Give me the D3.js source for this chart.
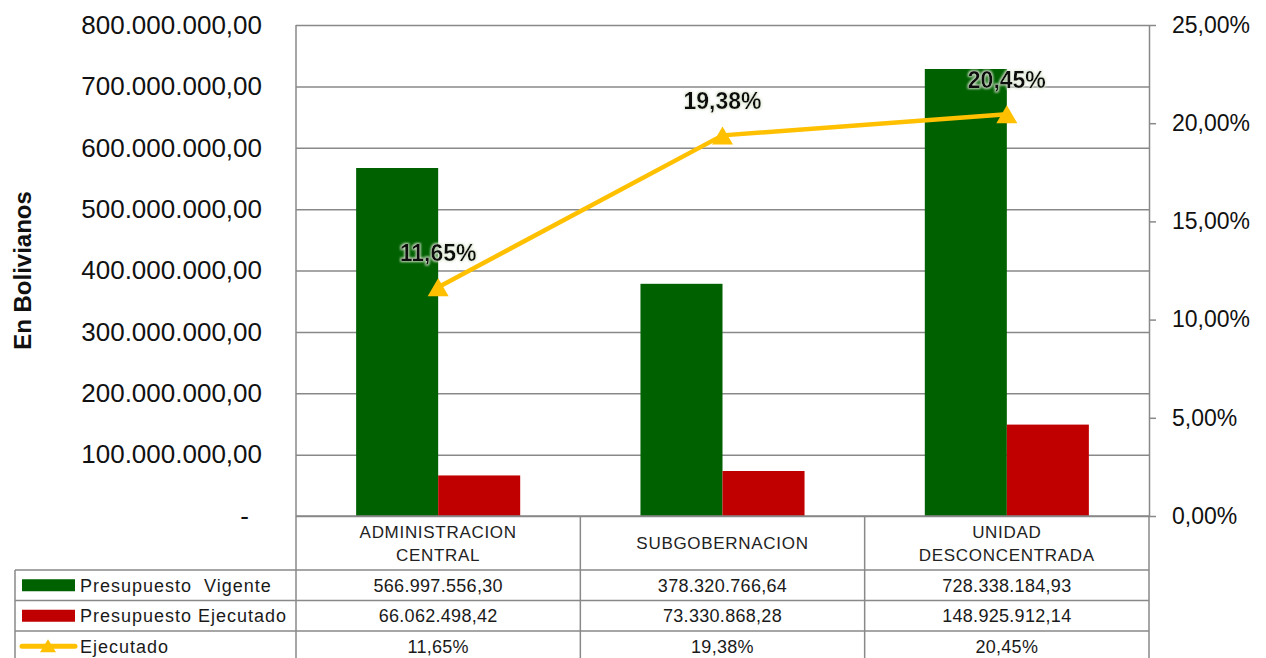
<!DOCTYPE html>
<html>
<head>
<meta charset="utf-8">
<script src="https://cdn.jsdelivr.net/npm/d3@7"></script>
<style>
  body { margin: 0; background: #fff; }
  svg { display: block; font-family: "Liberation Sans", Arial, sans-serif; }
</style>
</head>
<body>
<div id="chart"></div>
<script>
'use strict'

// data
const categories = ["ADMINISTRACION CENTRAL", "SUBGOBERNACION", "UNIDAD DESCONCENTRADA"]
const vigente = [566997556.30, 378320766.64, 728338184.93]
const ejecutado = [66062498.42, 73330868.28, 148925912.14]
const pctEjecutado = [11.65, 19.38, 20.45]
const seriesNames = ["Presupuesto  Vigente", "Presupuesto Ejecutado", "Ejecutado"]
const leftTicks = [0, 100e6, 200e6, 300e6, 400e6, 500e6, 600e6, 700e6, 800e6]
const rightTicks = [0, 5, 10, 15, 20, 25]

const green = "#006100", red = "#C00000", yellow = "#FFC000", grid = "#898989"

const locale = d3.formatLocale({decimal: ",", thousands: ".", grouping: [3], currency: ["", ""]})
const fmtNum = locale.format(",.2f")
const fmtPct = function(v){ return locale.format(".2f")(v) + "%" }

function renderChart(width, height){
	let padding = {left: 296, right: width - 1149, top: 25, bottom: height - 516}
	let svg = d3.select("#chart").append("svg")
		.attr("width", width)
		.attr("height", height)

	let defs = svg.append("defs")
	let glow = defs.append("filter").attr("id", "glow")
		.attr("x", "-20%").attr("y", "-40%").attr("width", "140%").attr("height", "180%")
	glow.append("feMorphology").attr("in", "SourceAlpha").attr("operator", "dilate").attr("radius", 1.2).attr("result", "d")
	glow.append("feGaussianBlur").attr("in", "d").attr("stdDeviation", 1.3).attr("result", "b")
	glow.append("feFlood").attr("flood-color", "#dfe9d6").attr("flood-opacity", 0.9)
	glow.append("feComposite").attr("in2", "b").attr("operator", "in").attr("result", "g")
	let merge = glow.append("feMerge")
	merge.append("feMergeNode").attr("in", "g")
	merge.append("feMergeNode").attr("in", "SourceGraphic")

	let x0 = d3.scaleBand().domain(categories).range([padding.left, width - padding.right])
	let groupW = x0.bandwidth() * 0.577
	let x1 = d3.scaleBand().domain(["v", "e"]).range([0, groupW])
	let y = d3.scaleLinear().domain([0, 800e6]).range([height - padding.bottom, padding.top])
	let y2 = d3.scaleLinear().domain([0, 25]).range([height - padding.bottom, padding.top])
	let plotBottom = height - padding.bottom
	let plotRight = width - padding.right

	// gridlines
	svg.append("g").attr("class", "grid")
		.attr("transform", "translate(" + padding.left + ",0)")
		.call(d3.axisLeft(y).tickValues(leftTicks).tickSize(-(plotRight - padding.left)).tickFormat(""))
		.call(g => g.select(".domain").remove())
		.selectAll("line").attr("stroke", grid).attr("stroke-width", 1.5)

	// left labels
	let yl = svg.append("g")
		.attr("transform", "translate(" + padding.left + ",0)")
		.call(d3.axisLeft(y).tickValues(leftTicks).tickSize(0).tickPadding(34)
			.tickFormat(function(d){ return d === 0 ? "-" : fmtNum(d) }))
	yl.select(".domain").remove()
	yl.selectAll("text").attr("font-size", 26).attr("fill", "#111")
		.attr("font-family", "Liberation Sans, Arial, sans-serif")
		.attr("dx", function(d){ return d === 0 ? -13 : 0 })

	// right axis
	let yr = svg.append("g")
		.attr("transform", "translate(" + plotRight + ",0)")
		.call(d3.axisRight(y2).tickValues(rightTicks).tickSize(7).tickSizeOuter(0).tickPadding(16).tickFormat(fmtPct))
	yr.select(".domain").attr("stroke", grid).attr("stroke-width", 1.5)
	yr.selectAll("line").attr("stroke", grid).attr("stroke-width", 1.5)
	yr.selectAll("text").attr("font-size", 23).attr("fill", "#111")
		.attr("font-family", "Liberation Sans, Arial, sans-serif")

	// left axis line
	svg.append("line").attr("x1", padding.left).attr("x2", padding.left)
		.attr("y1", padding.top).attr("y2", plotBottom)
		.attr("stroke", grid).attr("stroke-width", 1.5)

	// axis title
	svg.append("text")
		.attr("transform", "translate(31," + ((padding.top + plotBottom) / 2) + ") rotate(-90)")
		.attr("text-anchor", "middle")
		.attr("font-size", 24).attr("font-weight", "bold").attr("fill", "#111")
		.text("En Bolivianos")

	// bars
	let groups = svg.append("g").selectAll("g").data(categories).enter().append("g")
		.attr("transform", function(d){ return "translate(" + (x0(d) + (x0.bandwidth() - groupW) / 2) + ",0)" })
	groups.append("rect")
		.attr("x", x1("v")).attr("width", x1.bandwidth())
		.attr("y", function(d, i){ return y(vigente[i]) })
		.attr("height", function(d, i){ return plotBottom - y(vigente[i]) })
		.attr("fill", green)
	groups.append("rect")
		.attr("x", x1("e")).attr("width", x1.bandwidth())
		.attr("y", function(d, i){ return y(ejecutado[i]) })
		.attr("height", function(d, i){ return plotBottom - y(ejecutado[i]) })
		.attr("fill", red)

	// bottom line of the plot
	svg.append("line").attr("x1", padding.left).attr("x2", plotRight)
		.attr("y1", plotBottom).attr("y2", plotBottom)
		.attr("stroke", grid).attr("stroke-width", 1.5)

	// percentage line
	let cx = function(d){ return x0(d) + x0.bandwidth() / 2 }
	let line = d3.line()
		.x(function(d, i){ return cx(categories[i]) })
		.y(function(d){ return y2(d) })
	svg.append("path").datum(pctEjecutado)
		.attr("d", line).attr("fill", "none")
		.attr("stroke", yellow).attr("stroke-width", 4.5).attr("stroke-linejoin", "round")

	let tri = "M0,-9L10.5,9L-10.5,9Z"
	svg.append("g").selectAll("path").data(pctEjecutado).enter().append("path")
		.attr("d", tri)
		.attr("transform", function(d, i){ return "translate(" + cx(categories[i]) + "," + y2(d) + ")" })
		.attr("fill", yellow)

	svg.append("g").selectAll("text").data(pctEjecutado).enter().append("text")
		.attr("x", function(d, i){ return cx(categories[i]) })
		.attr("y", function(d){ return y2(d) - 26 })
		.attr("text-anchor", "middle")
		.attr("font-size", 23).attr("font-weight", "bold").attr("fill", "#111")
		.attr("filter", "url(#glow)")
		.text(fmtPct)

	// data table
	let tableLeft = 15
	let rowTop = 570, rowH = 30.5
	let tbl = svg.append("g").attr("stroke", grid).attr("stroke-width", 1.5)
	let vlines = [padding.left].concat(categories.map(function(c){ return x0(c) + x0.bandwidth() }))
	vlines.forEach(function(xv){
		tbl.append("line").attr("x1", xv).attr("x2", xv).attr("y1", plotBottom).attr("y2", height)
	})
	tbl.append("line").attr("x1", tableLeft).attr("x2", tableLeft).attr("y1", rowTop).attr("y2", height)
	for (let r = 0; r < 4; r++){
		tbl.append("line").attr("x1", tableLeft).attr("x2", plotRight)
			.attr("y1", rowTop + r * rowH).attr("y2", rowTop + r * rowH)
	}

	// category header
	let hdr = svg.append("g").selectAll("text").data(categories).enter().append("text")
		.attr("text-anchor", "middle").attr("font-size", 17).attr("fill", "#222")
		.attr("letter-spacing", 0.7)
	hdr.each(function(d){
		let words = d.split(" ")
		let mid = (plotBottom + rowTop) / 2
		let t = d3.select(this)
		words.forEach(function(w, i){
			t.append("tspan")
				.attr("x", cx(d))
				.attr("y", mid + 6 + (i - (words.length - 1) / 2) * 23)
				.text(w)
		})
	})

	// rows
	let rows = [vigente.map(fmtNum), ejecutado.map(fmtNum), pctEjecutado.map(fmtPct)]
	rows.forEach(function(vals, r){
		let yMid = rowTop + r * rowH + rowH / 2
		svg.append("g").selectAll("text").data(vals).enter().append("text")
			.attr("x", function(d, i){ return cx(categories[i]) })
			.attr("y", yMid + 6.5)
			.attr("text-anchor", "middle").attr("font-size", 18).attr("fill", "#1a1a1a")
			.attr("letter-spacing", 0.3)
			.text(function(d){ return d })
		svg.append("text")
			.attr("x", 80).attr("y", yMid + 6.5)
			.attr("font-size", 18).attr("fill", "#1a1a1a")
			.attr("letter-spacing", 1)
			.style("white-space", "pre")
			.text(seriesNames[r])
	})

	// legend keys
	let keyColors = [green, red]
	keyColors.forEach(function(c, r){
		let yMid = rowTop + r * rowH + rowH / 2
		svg.append("rect").attr("x", 22).attr("y", yMid - 6).attr("width", 53).attr("height", 12).attr("fill", c)
	})
	let yMid3 = rowTop + 2 * rowH + rowH / 2
	svg.append("line").attr("x1", 22).attr("x2", 75).attr("y1", yMid3).attr("y2", yMid3)
		.attr("stroke", yellow).attr("stroke-width", 5).attr("stroke-linecap", "round")
	svg.append("path").attr("d", "M0,-7L8,6L-8,6Z")
		.attr("transform", "translate(48," + yMid3 + ")").attr("fill", yellow)
}

renderChart(1266, 658)
</script>
</body>
</html>
